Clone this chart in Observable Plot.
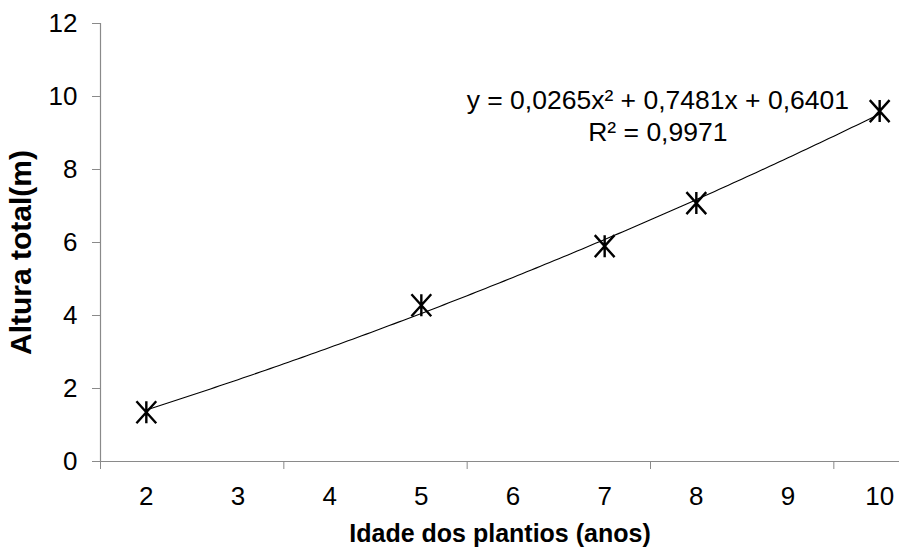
<!DOCTYPE html>
<html lang="pt">
<head>
<meta charset="utf-8">
<title>Altura total por idade dos plantios</title>
<script src="https://cdn.jsdelivr.net/npm/d3@7"></script>
<script src="https://cdn.jsdelivr.net/npm/@observablehq/plot@0.6"></script>
<style>
  html, body { margin: 0; padding: 0; background: #ffffff; }
  #chart { width: 899px; height: 548px; overflow: hidden; }
</style>
</head>
<body>
<div id="chart"></div>
<script>
// Observed stand heights by planting age
const ages = [2, 5, 7, 8, 10];
const heights = [1.35, 4.28, 5.9, 7.08, 9.6];

// Axis tick labels
const ageLabels = [2, 3, 4, 5, 6, 7, 8, 9, 10];
const heightTicks = [0, 2, 4, 6, 8, 10, 12];
// Category tick marks sit between every second age label
const ageTickMarks = [1.5, 3.5, 5.5, 7.5, 9.5];

// Quadratic trend line: y = a·x² + b·x + c, with x the category position (age 2 → 1)
const trendCoefficients = [0.0265, 0.7481, 0.6401];
const rSquared = 0.9971;

const points = ages.map((age, i) => ({age, height: heights[i]}));

const [a, b, c] = trendCoefficients;
const position = (age) => age - ageLabels[0] + 1;
const trend = d3.range(ages[0], ages[ages.length - 1] + 1e-9, 0.05)
  .map((age) => {
    const x = position(age);
    return {age, height: a * x * x + b * x + c};
  });

const ptBR = d3.formatLocale({decimal: ",", thousands: ".", grouping: [3], currency: ["R$", ""]});
const f4 = ptBR.format(".4f");
const equationLabel = `y = ${f4(a)}x² + ${f4(b)}x + ${f4(c)}\nR² = ${f4(rSquared)}`;

// Asterisk marker: a vertical stroke crossed by an X
const asterisk = {
  draw(context, size) {
    const r = Math.sqrt(size / Math.PI);
    const w = r * 0.9;
    context.moveTo(0, -r);
    context.lineTo(0, r);
    context.moveTo(-w, -r);
    context.lineTo(w, r);
    context.moveTo(-w, r);
    context.lineTo(w, -r);
  }
};

const axisGray = "#8a8a8a";

const chart = Plot.plot({
  width: 899,
  height: 548,
  marginLeft: 100,
  marginRight: 0,
  marginTop: 23,
  marginBottom: 87,
  style: {
    fontFamily: "'Liberation Sans', Arial, sans-serif",
    fontSize: "26px",
    color: "#000",
    background: "#fff",
    overflow: "visible"
  },
  x: {domain: [1.5, 10.5], range: [100, 925]},
  y: {domain: [0, 12]},
  marks: [
    // axis lines
    Plot.ruleX([1.5], {stroke: axisGray, strokeWidth: 1.2}),
    Plot.ruleY([0], {stroke: axisGray, strokeWidth: 1.2}),
    // y axis ticks and labels
    Plot.axisY({
      ticks: heightTicks,
      tickSize: 8,
      tickPadding: 15,
      stroke: axisGray,
      fill: "#000",
      fontSize: 26,
      label: null
    }),
    // x axis category tick marks
    Plot.axisX({
      ticks: ageTickMarks,
      tickSize: 8,
      tickFormat: () => "",
      stroke: axisGray,
      label: null
    }),
    // x axis category labels
    Plot.axisX({
      ticks: ageLabels,
      tickSize: 0,
      tickPadding: 25,
      fill: "#000",
      fontSize: 26,
      label: null
    }),
    // trend curve
    Plot.line(trend, {x: "age", y: "height", stroke: "#000", strokeWidth: 1.1}),
    // observations
    Plot.dot(points, {
      x: "age",
      y: "height",
      r: 11,
      symbol: asterisk,
      fill: "none",
      stroke: "#000",
      strokeWidth: 2.4
    }),
    // trend equation and coefficient of determination
    Plot.text([equationLabel], {
      x: 7.58,
      y: 9.5,
      text: (d) => d,
      textAnchor: "middle",
      lineAnchor: "middle",
      lineHeight: 1.22,
      fontSize: 26.5,
      fill: "#000"
    }),
    // axis titles
    Plot.text(["Idade dos plantios (anos)"], {
      frameAnchor: "bottom",
      text: (d) => d,
      lineAnchor: "middle",
      dy: 72,
      fontSize: 25,
      fontWeight: "bold",
      fill: "#000"
    }),
    Plot.text(["Altura total(m)"], {
      frameAnchor: "left",
      text: (d) => d,
      rotate: -90,
      lineAnchor: "middle",
      textAnchor: "middle",
      dx: -79,
      dy: 10,
      fontSize: 30,
      fontWeight: "bold",
      fill: "#000"
    })
  ]
});

document.getElementById("chart").appendChild(chart);
</script>
</body>
</html>
